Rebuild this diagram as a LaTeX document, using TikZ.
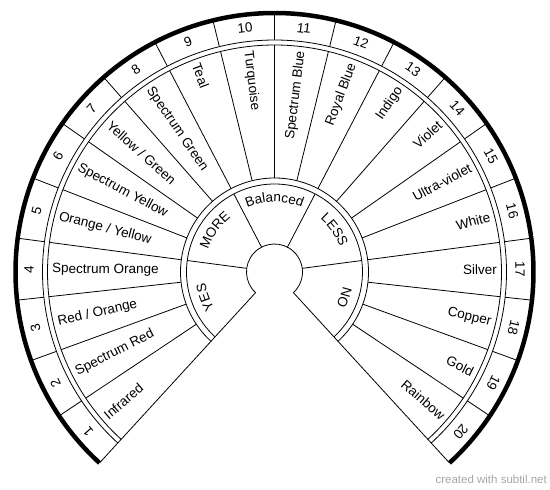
\documentclass[tikz,border=0pt]{standalone}
\usepackage{fontspec}
\setmainfont{Liberation Sans}
\usetikzlibrary{decorations.text}
\newcommand{\labelsize}{\fontsize{13.5}{16}\selectfont}
\tikzset{
  ring/.style={line width=0.8pt},
  rim/.style={line width=4.5pt},
  numlabel/.style={font=\labelsize, inner sep=0pt},
  colourlabel/.style={font=\labelsize, inner xsep=4.5pt, inner ysep=0pt},
  credit/.style={font=\fontsize{11.5}{14}\selectfont, text=black!35, inner sep=0pt},
}

\begin{document}
\begin{tikzpicture}[x=1pt, y=1pt]
  \useasboundingbox (0,0) rectangle (550,490);
  \coordinate (hub) at (274.5,218);
  \begin{scope}[shift={(hub)}]
    % rings
    \draw[rim] (227.5:259) arc[start angle=227.5, end angle=-47.5, radius=259];
    \foreach \r in {232,227,94,88,28}
      \draw[ring] (227.5:\r) arc[start angle=227.5, end angle=-47.5, radius=\r];
    \draw[ring] (227.5:28) -- (227.5:259);
    \draw[ring] (-47.5:28) -- (-47.5:259);
    % dividers
    \foreach \k in {1,...,19}{
      \pgfmathsetmacro\a{227.5-13.75*\k}
      \draw[ring] (\a:232) -- (\a:259);
      \draw[ring] (\a:94) -- (\a:227);
    }
    \foreach \a in {172.5,117.5,62.5,7.5}
      \draw[ring] (\a:28) -- (\a:88);
    % numbers and colours
    \foreach \name [count=\k] in {Infrared, Spectrum Red, Red / Orange, Spectrum Orange,
        Orange / Yellow, Spectrum Yellow, Yellow / Green, Spectrum Green, Teal, Turquoise,
        Spectrum Blue, Royal Blue, Indigo, Violet, Ultra-violet, White, Silver, Copper,
        Gold, Rainbow}{
      \pgfmathsetmacro\a{227.5-13.75*(\k-0.5)}
      \node[numlabel, rotate=\a-90] at (\a:245.5) {\k};
      \ifdim\a pt>90pt
        \node[colourlabel, anchor=west, rotate=\a-180] at (\a:227) {\name};
      \else
        \node[colourlabel, anchor=east, rotate=\a] at (\a:227) {\name};
      \fi
    }
    % answers
    \foreach \txt [count=\i] in {YES, MORE, Balanced, LESS, NO}{
      \pgfmathsetmacro\s{227.5-55*(\i-1)}
      \pgfmathsetmacro\e{\s-55}
      \labelsize
      \path[decorate, decoration={text along path, text align=center, text/.expanded=\txt}]
        (\s:70) arc[start angle=\s, end angle=\e, radius=70];
    }
  \end{scope}
  \node[credit, anchor=base east] (credit) at (547,6) {created with subtil.net};
\end{tikzpicture}
\end{document}
